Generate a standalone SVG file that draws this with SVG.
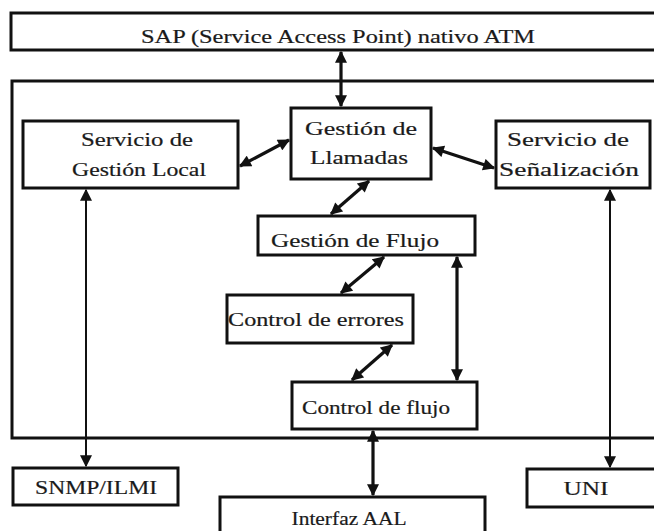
<svg xmlns="http://www.w3.org/2000/svg" width="654" height="531" viewBox="0 0 654 531">
  <style>
    .box { fill: #fff; stroke: #111; stroke-width: 3; }
    .frame { fill: none; stroke: #111; stroke-width: 3; }
    .lbl { font-family: "Liberation Serif", "DejaVu Serif", serif; font-size: 19px; fill: #1a1a1a; text-anchor: middle; stroke: #1a1a1a; stroke-width: 0.2; }
    .thick { stroke: #111; stroke-width: 3.2; fill: none; marker-start: url(#ah); marker-end: url(#ah); }
    .thin { stroke: #111; stroke-width: 2; fill: none; marker-start: url(#ah); marker-end: url(#ah); }
  </style>
  <defs>
    <marker id="ah" viewBox="0 0 10 10" refX="9" refY="5" markerWidth="13" markerHeight="12" markerUnits="userSpaceOnUse" orient="auto-start-reverse">
      <path d="M0,0 L10,5 L0,10 Z" fill="#111"/>
    </marker>
  </defs>

  <rect width="654" height="531" fill="#fff"/>

  <!-- outer stack frame, open on the right -->
  <path class="frame" d="M660,81 H12 V438 H660"/>

  <g id="sap">
    <rect class="box" x="11" y="13" width="660" height="37"/>
    <text class="lbl" x="338" y="43" font-size="20" textLength="394" lengthAdjust="spacingAndGlyphs">SAP (Service Access Point) nativo ATM</text>
  </g>

  <g id="gestion-local">
    <rect class="box" x="23" y="121" width="215" height="67"/>
    <text class="lbl" x="137" y="146" textLength="112" lengthAdjust="spacingAndGlyphs">Servicio de</text>
    <text class="lbl" x="139" y="176" textLength="134" lengthAdjust="spacingAndGlyphs">Gestión Local</text>
  </g>

  <g id="gestion-llamadas">
    <rect class="box" x="291" y="108" width="140" height="71"/>
    <text class="lbl" x="361" y="135" textLength="112" lengthAdjust="spacingAndGlyphs">Gestión de</text>
    <text class="lbl" x="359" y="164" textLength="98" lengthAdjust="spacingAndGlyphs">Llamadas</text>
  </g>

  <g id="senalizacion">
    <rect class="box" x="496" y="121" width="154" height="67"/>
    <text class="lbl" x="568" y="146" textLength="122" lengthAdjust="spacingAndGlyphs">Servicio de</text>
    <text class="lbl" x="569" y="176" textLength="140" lengthAdjust="spacingAndGlyphs">Señalización</text>
  </g>

  <g id="gestion-flujo">
    <rect class="box" x="258" y="216" width="217" height="39"/>
    <text class="lbl" x="355" y="247" textLength="168" lengthAdjust="spacingAndGlyphs">Gestión de Flujo</text>
  </g>

  <g id="control-errores">
    <rect class="box" x="227" y="295" width="186" height="48"/>
    <text class="lbl" x="316" y="326" textLength="176" lengthAdjust="spacingAndGlyphs">Control de errores</text>
  </g>

  <g id="control-flujo">
    <rect class="box" x="292" y="382" width="185" height="47"/>
    <text class="lbl" x="376" y="414" textLength="148" lengthAdjust="spacingAndGlyphs">Control de flujo</text>
  </g>

  <g id="snmp-ilmi">
    <rect class="box" x="13" y="468" width="165" height="37"/>
    <text class="lbl" x="96" y="494" textLength="122" lengthAdjust="spacingAndGlyphs">SNMP/ILMI</text>
  </g>

  <g id="uni">
    <rect class="box" x="527" y="469" width="140" height="38"/>
    <text class="lbl" x="586" y="495" textLength="45" lengthAdjust="spacingAndGlyphs">UNI</text>
  </g>

  <g id="interfaz-aal">
    <rect class="box" x="220" y="497" width="265" height="50"/>
    <text class="lbl" x="349" y="525" textLength="115" lengthAdjust="spacingAndGlyphs">Interfaz AAL</text>
  </g>

  <g id="connectors">
    <line class="thick" x1="341" y1="52" x2="341" y2="106"/>
    <line class="thick" x1="240" y1="166" x2="289" y2="140"/>
    <line class="thick" x1="433" y1="148" x2="494" y2="168"/>
    <line class="thick" x1="369" y1="181" x2="331" y2="214"/>
    <line class="thick" x1="384" y1="257" x2="341" y2="293"/>
    <line class="thick" x1="392" y1="345" x2="352" y2="380"/>
    <line class="thick" x1="457" y1="257" x2="457" y2="380"/>
    <line class="thick" x1="373" y1="431" x2="373" y2="495"/>
    <line class="thin" x1="86" y1="190" x2="86" y2="466"/>
    <line class="thin" x1="610" y1="190" x2="610" y2="467"/>
  </g>
</svg>
